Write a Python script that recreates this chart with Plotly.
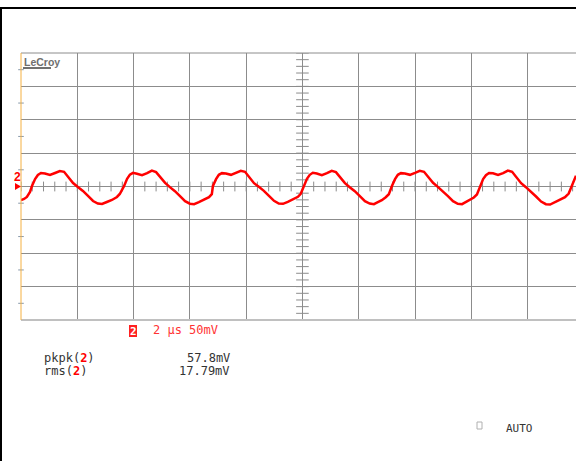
import plotly.graph_objects as go

# ---- data: channel 2 trace (time in µs, voltage in mV) ----
t_us = [
    -10.00, -9.89, -9.79, -9.68,
    -9.61, -9.50, -9.40, -9.29, -9.15, -8.97, -8.79, -8.62, -8.47, -8.33, -8.15, -7.98, -7.80, -7.62, -7.44, -7.27, -7.12, -6.95, -6.77, -6.59, -6.49,
    -6.34, -6.23, -6.13, -6.02, -5.88, -5.70, -5.52, -5.35, -5.20, -5.06, -4.88, -4.71, -4.53, -4.35, -4.17, -4.00, -3.85, -3.68, -3.50, -3.32, -3.22,
    -3.18, -3.07, -2.97, -2.86, -2.72, -2.54, -2.36, -2.19, -2.04, -1.90, -1.72, -1.55, -1.37, -1.19, -1.01, -0.84, -0.69, -0.52, -0.34, -0.16, -0.06,
    0.05, 0.16, 0.26, 0.37, 0.51, 0.69, 0.87, 1.04, 1.19, 1.33, 1.51, 1.68, 1.86, 2.04, 2.22, 2.39, 2.54, 2.68, 2.82, 2.96, 3.07,
    3.18, 3.29, 3.39, 3.50, 3.64, 3.82, 4.00, 4.17, 4.32, 4.46, 4.64, 4.81, 4.99, 5.17, 5.35, 5.52, 5.67, 5.81, 5.95, 6.09, 6.20,
    6.31, 6.42, 6.52, 6.63, 6.77, 6.95, 7.13, 7.30, 7.45, 7.59, 7.77, 7.94, 8.12, 8.30, 8.48, 8.65, 8.80, 8.97, 9.15, 9.33, 9.46,
    9.57, 9.64, 9.72,
]
v_mV = [
    -20.2, -18.7, -15.7, -8.2,
    0.7, 11.2, 17.2, 20.2, 19.5, 17.2, 20.2, 23.2, 22.0, 14.2, 5.2, -0.8, -6.7, -14.2, -21.7, -25.5, -26.2, -23.2, -20.2, -15.7, -11.2,
    0.5, 11.5, 17.8, 20.5, 19.0, 17.0, 20.0, 23.8, 21.5, 14.0, 5.5, -1.0, -7.0, -14.5, -22.0, -25.8, -26.5, -23.5, -20.0, -16.0, -11.5,
    0.8, 11.0, 17.5, 20.0, 19.5, 17.5, 20.5, 23.5, 22.0, 14.5, 5.0, -0.5, -6.5, -14.0, -21.5, -25.5, -26.0, -23.0, -19.5, -15.5, -11.0,
    0.5, 11.5, 17.5, 20.5, 19.5, 17.0, 20.0, 23.5, 21.5, 14.0, 5.0, -1.0, -7.0, -14.5, -22.0, -25.5, -26.5, -23.5, -20.5, -16.0, -11.5,
    0.6, 11.0, 17.5, 20.0, 19.5, 17.5, 20.5, 23.5, 22.0, 14.5, 5.5, -0.5, -7.0, -14.5, -22.0, -26.0, -26.5, -23.5, -20.5, -16.5, -12.0,
    0.5, 11.2, 17.0, 20.2, 19.8, 17.2, 20.0, 23.8, 22.0, 14.0, 5.0, -1.0, -7.5, -15.0, -22.5, -26.5, -27.0, -23.5, -20.0, -16.0, -10.5,
    0.5, 9.5, 16.0,
]

# ---- scope settings / labels ----
time_per_div_us = 2
volts_per_div_mV = 50
x_range = [-10, 9.72]
y_range = [-200, 200]
x_minor_ticks = [round(-10 + 0.4 * i, 2) for i in range(50)]
y_minor_ticks = [-200 + 10 * i for i in range(41)]
y_edge_ticks = [-175, -125, -75, -25, 25, 75, 125, 175]
meas_names = ["pkpk", "rms"]
meas_values = ["57.8mV", "17.79mV"]
timebase_label = "2 µs 50mV"

W, H = 576, 461
L, T, R_PX, B_PX = 21, 53, 576, 320
PW, PH = R_PX - L, B_PX - T


def px(x):
    return (x - L) / PW


def py(y):
    return (B_PX - y) / PH


RED = "#ff0000"
GRID = "#8c8c8c"
MONO = "DejaVu Sans Mono"

fig = go.Figure()

# center crosshair minor ticks
fig.add_trace(go.Scatter(
    x=x_minor_ticks, y=[0] * len(x_minor_ticks), mode="markers",
    marker=dict(symbol="line-ns", size=7, line=dict(width=1, color=GRID)),
    hoverinfo="skip", showlegend=False))
fig.add_trace(go.Scatter(
    x=[0] * len(y_minor_ticks), y=y_minor_ticks, mode="markers",
    marker=dict(symbol="line-ew", size=9, line=dict(width=1, color=GRID)),
    hoverinfo="skip", showlegend=False))
fig.add_trace(go.Scatter(
    x=[-10] * len(y_edge_ticks), y=y_edge_ticks, mode="markers",
    marker=dict(symbol="line-ew", size=4, line=dict(width=1, color="#8899aa")),
    hoverinfo="skip", showlegend=False, cliponaxis=False))

# waveform
fig.add_trace(go.Scatter(
    x=t_us, y=v_mV, mode="lines",
    line=dict(color=RED, width=2.5),
    hoverinfo="skip", showlegend=False))

fig.update_xaxes(range=x_range, tick0=-10, dtick=time_per_div_us, showgrid=True,
                 gridcolor=GRID, gridwidth=1, zeroline=False, showticklabels=False,
                 ticks="", showline=False, fixedrange=True)
fig.update_yaxes(range=y_range, tick0=-200, dtick=volts_per_div_mV, showgrid=True,
                 gridcolor=GRID, gridwidth=1, zeroline=False, showticklabels=False,
                 ticks="", showline=False, fixedrange=True)

shapes = []
# frame of grid
shapes.append(dict(type="line", xref="paper", yref="paper", x0=0, x1=1, y0=1, y1=1,
                   line=dict(color=GRID, width=1)))
shapes.append(dict(type="line", xref="paper", yref="paper", x0=0, x1=1, y0=0, y1=0,
                   line=dict(color="#c0c0c0", width=2)))
shapes.append(dict(type="line", xref="paper", yref="paper", x0=0, x1=0, y0=0, y1=1,
                   line=dict(color="#f5b041", width=1)))
# outer black border (top & left)
shapes.append(dict(type="line", xref="paper", yref="paper", x0=px(0), x1=px(576),
                   y0=py(8), y1=py(8), line=dict(color="black", width=2)))
shapes.append(dict(type="line", xref="paper", yref="paper", x0=px(1), x1=px(1),
                   y0=py(7), y1=py(461), line=dict(color="black", width=2)))
# LeCroy underline
shapes.append(dict(type="line", xref="paper", yref="paper", x0=px(23), x1=px(51),
                   y0=py(68), y1=py(68), line=dict(color="#707070", width=2)))
# ground marker triangle
shapes.append(dict(type="path", xref="paper", yref="paper",
                   path=f"M {px(15)},{py(183)} L {px(21)},{py(186.5)} L {px(15)},{py(190)} Z",
                   fillcolor=RED, line=dict(color=RED, width=0)))
# channel badge
shapes.append(dict(type="rect", xref="paper", yref="paper", x0=px(129), x1=px(137),
                   y0=py(337), y1=py(325), fillcolor="#ff2020", line=dict(width=0)))
# AUTO checkbox
shapes.append(dict(type="rect", xref="paper", yref="paper", x0=px(477), x1=px(482),
                   y0=py(429), y1=py(422), line=dict(color="#b0b0b0", width=1)))

ann = []


def text(x, y, s, color="#333333", size=12, xanchor="left", family=MONO, bold=False):
    ann.append(dict(xref="paper", yref="paper", x=px(x), y=py(y), text=(f"<b>{s}</b>" if bold else s),
                    showarrow=False, xanchor=xanchor, yanchor="middle",
                    font=dict(family=family, size=size, color=color)))


text(22, 62, "LeCroy", color="#707070", size=10.5, family="Liberation Sans", bold=True)
text(17.5, 177, "2", color=RED, size=12, xanchor="center", family="Liberation Sans", bold=True)
text(133, 331, "2", color="white", size=11, xanchor="center", family=MONO, bold=True)
text(151, 330, timebase_label, color="#ff3333", size=12)
for i, (name, val) in enumerate(zip(meas_names, meas_values)):
    yy = 358 + 13 * i
    text(42, yy, f"{name}(<span style='color:{RED}'><b>2</b></span>)", size=12)
    text(232, yy, val, size=12, xanchor="right")
text(504, 428, "AUTO", size=11)

fig.update_layout(
    width=W, height=H,
    margin=dict(l=L, r=W - R_PX, t=T, b=H - B_PX, pad=0),
    paper_bgcolor="white", plot_bgcolor="white",
    shapes=shapes, annotations=ann, showlegend=False,
)

fig.write_html("out.html", config={"displayModeBar": False},
               post_script="document.body.style.margin='0';document.body.style.overflow='hidden';")
